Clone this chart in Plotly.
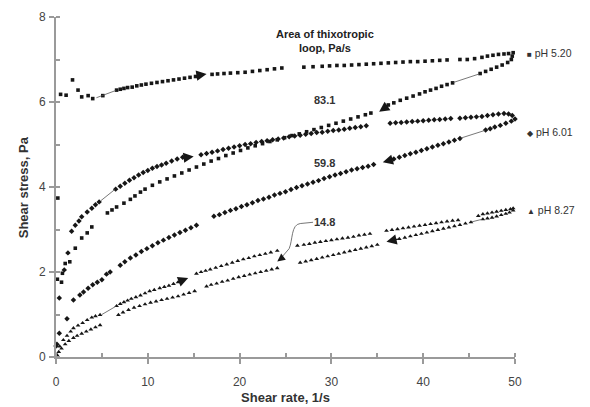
import plotly.graph_objects as go

# ---------------- data ----------------
# pH 5.20 (squares)
ph520_up_x = [0.2, 0.5, 1.1, 1.8, 2.4, 2.8, 3.5, 4.0, 5.1, 6.6, 7.0, 7.4, 7.8, 8.3, 8.8, 9.3, 9.8, 10.4, 11.0,
              11.6, 12.2, 12.8, 13.4, 14.0, 14.6, 15.2, 17.0, 17.6, 18.3, 19.0, 19.8, 20.6, 21.4, 22.2, 23.0,
              23.8, 24.6, 27.0, 28.0, 29.0, 29.8, 30.6, 31.4, 32.2, 33.0, 33.8, 34.6, 35.4, 36.2, 37.0, 37.8,
              38.6, 39.4, 40.2, 41.0, 41.8, 42.6, 44.0, 44.8, 45.6, 46.4, 47.0, 47.6, 48.2, 48.8, 49.3, 49.8]
ph520_up_y = [3.74, 6.18, 6.16, 6.52, 6.28, 6.12, 6.15, 6.08, 6.15, 6.28, 6.30, 6.32, 6.34, 6.35, 6.38, 6.40, 6.42, 6.44, 6.46,
              6.48, 6.50, 6.52, 6.54, 6.56, 6.58, 6.60, 6.65, 6.66, 6.67, 6.68, 6.69, 6.70, 6.72, 6.74, 6.76,
              6.78, 6.80, 6.82, 6.83, 6.84, 6.85, 6.86, 6.86, 6.87, 6.88, 6.89, 6.90, 6.91, 6.92, 6.93, 6.94,
              6.95, 6.95, 6.96, 6.97, 6.98, 6.99, 7.00, 7.00, 7.02, 7.05, 7.08, 7.10, 7.12, 7.13, 7.14, 7.16]
ph520_dn_x = [49.7, 49.6, 49.2, 48.6, 48.0, 47.4, 46.8, 46.2, 43.2, 42.6, 42.0, 41.4, 40.8, 40.2, 39.6, 38.9, 38.2,
              37.5, 36.8, 36.2, 34.3, 33.7, 32.9, 32.1, 31.3, 30.5, 29.7, 28.9, 28.1, 27.3, 26.5, 25.7, 24.9,
              24.1, 23.3, 22.5, 21.7, 20.9, 20.1, 19.3, 18.5, 17.7, 16.9, 16.1, 15.3, 14.5, 13.7, 12.9, 12.1,
              11.3, 10.5, 9.7, 9.2, 8.6, 8.1, 7.4, 6.6, 6.1, 5.6, 3.9, 3.4, 2.8, 2.1, 1.5, 1.0, 0.7, 0.6, 0.15]
ph520_dn_y = [7.08, 7.00, 6.93, 6.87, 6.82, 6.77, 6.72, 6.67, 6.45, 6.41, 6.37, 6.32, 6.28, 6.24, 6.19, 6.14, 6.09,
              6.04, 5.98, 5.93, 5.74, 5.70, 5.65, 5.60, 5.55, 5.50, 5.45, 5.40, 5.35, 5.30, 5.25, 5.21, 5.16,
              5.11, 5.07, 5.02, 4.97, 4.92, 4.86, 4.80, 4.74, 4.67, 4.61, 4.54, 4.47, 4.40, 4.33, 4.26, 4.19,
              4.12, 4.04, 3.95, 3.88, 3.79, 3.71, 3.62, 3.53, 3.46, 3.39, 3.06, 2.92, 2.80, 2.56, 2.24, 2.20, 1.97, 1.76, 1.83]

# pH 6.01 (diamonds)
ph601_up_x = [0.1, 0.36, 0.9, 1.3, 1.7, 2.1, 2.5, 2.8, 3.4, 3.9, 4.3, 4.7, 6.5, 7.0, 7.5, 8.0, 8.5, 9.0, 9.5, 10.0,
              10.5, 11.0, 11.5, 12.0, 12.6, 13.2, 13.8, 15.8, 16.4, 17.0, 17.6, 18.2, 18.8, 19.4, 20.0, 20.6,
              21.2, 21.8, 22.4, 23.0, 23.6, 24.2, 24.8, 25.4, 26.0, 26.6, 27.2, 27.8, 28.4, 29.0, 29.6, 30.2,
              30.8, 31.4, 32.0, 32.6, 33.2, 33.8, 36.4, 37.0, 37.6, 38.2, 38.8, 39.4, 40.0, 40.6, 41.2, 41.8,
              42.4, 43.0, 44.0, 44.6, 45.2, 45.8, 46.4, 47.0, 47.6, 48.2, 48.8, 49.3, 49.7]
ph601_up_y = [0.30, 1.39, 2.05, 2.45, 2.96, 3.10, 3.20, 3.30, 3.41, 3.50, 3.58, 3.65, 3.95, 4.02, 4.09, 4.16, 4.22, 4.28, 4.34, 4.39,
              4.44, 4.48, 4.52, 4.56, 4.61, 4.66, 4.70, 4.76, 4.79, 4.82, 4.85, 4.88, 4.91, 4.94, 4.97, 5.00,
              5.02, 5.05, 5.07, 5.09, 5.11, 5.13, 5.15, 5.18, 5.20, 5.22, 5.24, 5.26, 5.28, 5.29, 5.31, 5.33,
              5.34, 5.36, 5.38, 5.40, 5.42, 5.44, 5.50, 5.51, 5.52, 5.53, 5.54, 5.55, 5.56, 5.57, 5.58, 5.59,
              5.60, 5.61, 5.62, 5.63, 5.64, 5.65, 5.66, 5.68, 5.70, 5.72, 5.73, 5.72, 5.68]
ph601_dn_x = [50.0, 49.6, 49.0, 48.4, 47.8, 47.3, 46.8, 44.0, 43.4, 42.8, 42.2, 41.6, 41.0, 40.4, 39.8, 39.2, 38.6,
              38.0, 37.4, 36.8, 34.6, 34.0, 33.4, 32.8, 32.2, 31.6, 31.0, 30.4, 29.8, 29.2, 28.6, 28.0, 27.4,
              26.8, 26.2, 25.6, 25.0, 24.4, 23.8, 23.2, 22.6, 22.0, 21.4, 20.8, 20.2, 19.6, 19.0, 18.4, 17.8,
              17.2, 15.3, 14.7, 14.1, 13.5, 12.9, 12.3, 11.7, 11.1, 10.5, 9.9, 9.3, 8.7, 8.1, 7.5, 7.0, 5.9,
              5.5, 5.0, 4.5, 4.0, 3.5, 3.0, 2.6, 1.9, 1.2, 0.36, 0.0]
ph601_dn_y = [5.60, 5.55, 5.50, 5.45, 5.41, 5.37, 5.34, 5.14, 5.10, 5.06, 5.02, 4.98, 4.94, 4.90, 4.86, 4.82, 4.78,
              4.74, 4.70, 4.66, 4.53, 4.49, 4.46, 4.43, 4.40, 4.36, 4.32, 4.28, 4.24, 4.20, 4.15, 4.11, 4.07,
              4.03, 3.99, 3.94, 3.89, 3.85, 3.81, 3.76, 3.72, 3.68, 3.63, 3.58, 3.54, 3.49, 3.45, 3.40, 3.35,
              3.31, 3.10, 3.04, 2.98, 2.93, 2.87, 2.81, 2.75, 2.69, 2.62, 2.55, 2.48, 2.40, 2.33, 2.24, 2.16, 2.00,
              1.95, 1.82, 1.76, 1.70, 1.62, 1.53, 1.46, 1.34, 0.90, 0.56, 0.26]

# pH 8.27 (triangles)
ph827_up_x = [0.1, 0.4, 0.8, 1.2, 1.6, 1.9, 2.4, 2.9, 3.4, 3.9, 4.3, 4.8, 6.6, 7.0, 7.4, 7.8, 8.2, 8.7, 9.2, 9.7,
              10.2, 10.7, 11.3, 11.8, 12.3, 12.8, 13.3, 15.3, 15.8, 16.3, 16.8, 17.4, 18.0, 18.6, 19.2, 19.8,
              20.4, 21.0, 21.6, 22.2, 22.8, 23.4, 24.1, 26.3, 27.0, 27.6, 28.2, 28.8, 29.4, 30.0, 30.6, 31.2,
              31.8, 32.4, 33.0, 33.6, 34.2, 36.0, 36.6, 37.2, 37.8, 38.4, 39.0, 39.6, 40.2, 40.8, 41.4, 42.0,
              42.6, 43.2, 43.8, 46.0, 46.5, 47.0, 47.5, 48.0, 48.5, 49.0, 49.5, 49.8]
ph827_up_y = [0.05, 0.25, 0.40, 0.50, 0.60, 0.68, 0.74, 0.80, 0.87, 0.93, 0.96, 0.99, 1.20, 1.25, 1.29, 1.33, 1.37, 1.41, 1.45, 1.50,
              1.55, 1.58, 1.62, 1.65, 1.68, 1.72, 1.76, 1.96, 2.00, 2.03, 2.06, 2.10, 2.14, 2.18, 2.22, 2.26,
              2.30, 2.33, 2.37, 2.40, 2.43, 2.46, 2.50, 2.62, 2.64, 2.66, 2.69, 2.71, 2.73, 2.75, 2.77, 2.79,
              2.81, 2.83, 2.86, 2.88, 2.90, 2.97, 2.99, 3.01, 3.03, 3.05, 3.07, 3.09, 3.11, 3.13, 3.15, 3.17,
              3.19, 3.21, 3.22, 3.32, 3.36, 3.38, 3.40, 3.42, 3.44, 3.46, 3.48, 3.50]
ph827_dn_x = [49.8, 49.4, 49.0, 48.5, 48.0, 47.5, 47.0, 46.5, 45.2, 44.6, 44.0, 43.4, 42.8, 42.2, 41.6, 41.0, 40.4,
              39.8, 39.2, 38.6, 38.0, 37.4, 36.8, 35.0, 34.4, 33.8, 33.2, 32.6, 32.0, 31.4, 30.8, 30.2, 29.6,
              29.0, 28.4, 27.8, 27.2, 26.6, 24.1, 23.5, 22.9, 22.3, 21.7, 21.1, 20.5, 19.9, 19.3, 18.7, 18.1,
              17.5, 16.9, 16.4, 15.1, 14.5, 13.9, 13.3, 12.7, 12.1, 11.5, 10.9, 10.3, 9.7, 9.1, 8.5, 7.9, 7.3,
              6.8, 4.8, 4.3, 3.8, 3.3, 2.8, 2.3, 1.9, 1.4, 1.0, 0.6, 0.3, 0.1]
ph827_dn_y = [3.45, 3.40, 3.37, 3.34, 3.31, 3.28, 3.26, 3.24, 3.17, 3.14, 3.11, 3.08, 3.05, 3.02, 2.99, 2.96, 2.93,
              2.90, 2.87, 2.84, 2.81, 2.78, 2.75, 2.64, 2.61, 2.58, 2.55, 2.52, 2.49, 2.46, 2.43, 2.40, 2.37,
              2.34, 2.31, 2.28, 2.25, 2.22, 2.09, 2.06, 2.03, 2.00, 1.97, 1.94, 1.91, 1.88, 1.84, 1.80, 1.77,
              1.73, 1.70, 1.66, 1.55, 1.51, 1.47, 1.43, 1.40, 1.37, 1.34, 1.31, 1.28, 1.24, 1.20, 1.16, 1.11, 1.05,
              0.99, 0.75, 0.70, 0.65, 0.60, 0.55, 0.50, 0.45, 0.38, 0.30, 0.20, 0.12, 0.04]

series_names = ["pH 5.20", "pH 6.01", "pH 8.27"]
series_symbols = ["square", "diamond", "triangle-up"]
legend_glyphs = ["\u25A0", "\u25C6", "\u25B2"]
legend_y = [7.15, 5.29, 3.46]
loop_areas = ["83.1", "59.8", "14.8"]
x_ticks = [0, 10, 20, 30, 40, 50]
y_ticks = [0, 2, 4, 6, 8]

FONT = "Liberation Sans, Arial, sans-serif"
INK = "#161616"
AXC = "#9a9a9a"

fig = go.Figure()
curves = [
    (ph520_up_x, ph520_up_y, ph520_dn_x, ph520_dn_y, 3.6),
    (ph601_up_x, ph601_up_y, ph601_dn_x, ph601_dn_y, 4.2),
    (ph827_up_x, ph827_up_y, ph827_dn_x, ph827_dn_y, 4.2),
]
for (ux, uy, dx, dy, sz), name, sym in zip(curves, series_names, series_symbols):
    for xs, ys in ((ux, uy), (dx, dy)):
        fig.add_trace(go.Scatter(x=xs, y=ys, mode="markers", name=name, showlegend=False,
                                 marker=dict(symbol=sym, size=sz, color=INK, line=dict(width=0)),
                                 cliponaxis=False))

# direction arrows (head, tail) along the loops
arrows = [
    (16.4, 6.66, 15.0, 6.61), (35.2, 5.77, 36.4, 5.95),
    (15.0, 4.72, 13.6, 4.68), (35.6, 4.58, 36.9, 4.66),
    (14.4, 1.86, 13.0, 1.74), (36.0, 2.71, 37.4, 2.78),
]
for hx, hy, tx, ty in arrows:
    fig.add_annotation(x=hx, y=hy, ax=tx, ay=ty, xref="x", yref="y", axref="x", ayref="y",
                       text="", showarrow=True, arrowhead=2, arrowsize=1.7, arrowwidth=1.2,
                       arrowcolor=INK)

# thin connector lines in data gaps
gaps = [
    (4.4, 6.10, 6.5, 6.27), (4.9, 3.68, 6.4, 3.94), (5.0, 1.0, 6.5, 1.19),
    (43.3, 6.46, 46.1, 6.66), (44.1, 5.15, 46.7, 5.33), (45.3, 3.18, 46.4, 3.24),
]
for x0, y0, x1, y1 in gaps:
    fig.add_shape(type="line", x0=x0, y0=y0, x1=x1, y1=y1, xref="x", yref="y",
                  line=dict(color="#555555", width=0.8))

# callout for 14.8
fig.add_shape(type="path", xref="x", yref="y",
              path="M 28.0 3.17 L 26.6 3.14 C 25.6 3.12 25.8 2.75 25.4 2.55 L 24.4 2.30",
              line=dict(color="#777777", width=1))
fig.add_annotation(x=24.1, y=2.25, ax=24.6, ay=2.33, xref="x", yref="y", axref="x", ayref="y",
                   text="", showarrow=True, arrowhead=2, arrowsize=1.3, arrowwidth=1.2, arrowcolor=INK)

# texts
fig.add_annotation(x=29.3, y=7.44, xref="x", yref="y", showarrow=False,
                   text="<b>Area of thixotropic<br>loop, Pa/s</b>",
                   font=dict(family=FONT, size=11, color="#222"), align="center")
for txt, yy in zip(loop_areas, [6.05, 4.56, 3.18]):
    fig.add_annotation(x=29.3, y=yy, xref="x", yref="y", showarrow=False, text="<b>" + txt + "</b>",
                       font=dict(family=FONT, size=11, color="#333"))
for g, nm, yy in zip(legend_glyphs, series_names, legend_y):
    fig.add_annotation(x=1.022, y=yy, xref="paper", yref="y", xanchor="left", showarrow=False,
                       text="<span style='font-size:8px'>" + g + "</span> " + nm,
                       font=dict(family=FONT, size=10.5, color="#333"))

# y-axis title placed as rotated text
fig.add_annotation(x=-0.092, y=0.5, xref="paper", yref="paper", showarrow=False, textangle=-90,
                   text="<b>Shear stress, Pa</b>", font=dict(family=FONT, size=13, color="#333"))

fig.update_xaxes(range=[0, 50], tickvals=x_ticks, ticktext=[str(v) for v in x_ticks], automargin=False,
                 showgrid=False, zeroline=False, showline=True, linecolor=AXC, linewidth=2,
                 ticks="outside", ticklen=5, tickcolor=AXC, tickwidth=1.5, ticklabelstandoff=8,
                 minor=dict(dtick=5, ticks="inside", ticklen=4, tickcolor=AXC, tickwidth=1.5),
                 tickfont=dict(family=FONT, size=12, color="#444"),
                 title=dict(text="<b>Shear rate, 1/s</b>", standoff=4,
                            font=dict(family=FONT, size=13, color="#333")))
fig.update_yaxes(range=[0, 8], tickvals=y_ticks, ticktext=[str(v) for v in y_ticks], automargin=False,
                 showgrid=False, zeroline=False, showline=True, linecolor=AXC, linewidth=2,
                 ticks="outside", ticklen=5, tickcolor=AXC, tickwidth=1.5, ticklabelstandoff=1,
                 minor=dict(dtick=1, ticks="inside", ticklen=4, tickcolor=AXC, tickwidth=1.5),
                 tickfont=dict(family=FONT, size=12, color="#444"))

# the page body adds an 8 px offset, so the figure is 8 px smaller and shifted accordingly
fig.update_layout(width=582, height=399, margin=dict(l=48, r=75, t=9, b=50),
                  plot_bgcolor="white", paper_bgcolor="white", showlegend=False)
fig.write_html("out.html")
